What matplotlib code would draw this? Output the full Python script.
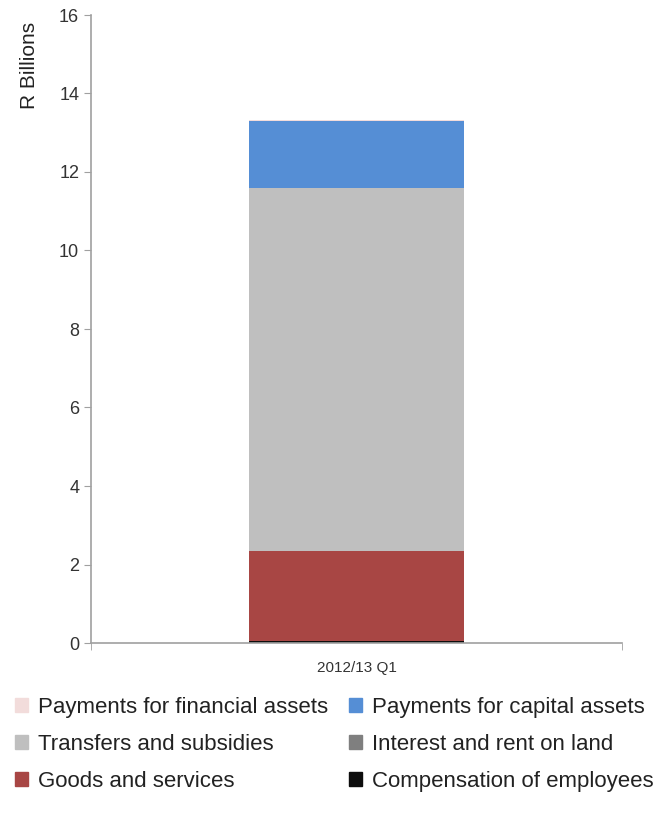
import numpy as np
import matplotlib.pyplot as plt
from matplotlib.patches import Patch

plt.rcParams['font.family'] = ['Liberation Sans Narrow', 'Liberation Sans', 'DejaVu Sans']

# quarter and spending by economic classification (R billions)
quarters = ['2012/13 Q1']
compensation = [0.05]
goods = [2.29]
interest = [0.0]
transfers = [9.25]
capital = [1.71]
financial = [0.02]

series = [
    ('Compensation of employees', compensation, '#0d0d0d'),
    ('Goods and services', goods, '#a84644'),
    ('Interest and rent on land', interest, '#7f7f7f'),
    ('Transfers and subsidies', transfers, '#bfbfbf'),
    ('Payments for capital assets', capital, '#558ed5'),
    ('Payments for financial assets', financial, '#f2dcdb'),
]

fig = plt.figure(figsize=(6.62, 8.22), dpi=100)
ax = fig.add_axes([91 / 662, 179 / 822, 531 / 662, 628 / 822])

x = np.arange(len(quarters))
bottom = np.zeros(len(quarters))
for name, vals, col in series:
    ax.bar(x, vals, width=0.405, bottom=bottom, color=col, label=name)
    bottom += np.array(vals)

ax.set_xlim(-0.5, 0.5)
ax.set_ylim(0, 16)
ax.set_yticks(np.arange(0, 17, 2))
ax.set_xticks(x)
ax.set_xticklabels(quarters)
ax.set_xticks([-0.5, 0.5], minor=True)
ax.set_ylabel('R Billions', fontsize=15, color='#222222')
ax.yaxis.set_label_coords(-0.098, 0.92)

for s in ['top', 'right']:
    ax.spines[s].set_visible(False)
for s in ['left', 'bottom']:
    ax.spines[s].set_color('#a0a0a0')
    ax.spines[s].set_linewidth(1.2)
ax.tick_params(axis='y', colors='#a0a0a0', labelcolor='#333333', labelsize=13, length=5)
ax.tick_params(axis='x', which='major', length=0, labelcolor='#333333', labelsize=11, pad=13)
ax.tick_params(axis='x', which='minor', length=5, color='#a0a0a0')

# legend: two columns, three rows
order = ['Payments for financial assets', 'Transfers and subsidies', 'Goods and services',
         'Payments for capital assets', 'Interest and rent on land', 'Compensation of employees']
colors = {n: c for n, _, c in series}
handles = [Patch(color=colors[n], label=n) for n in order]
fig.legend(handles=handles, loc='lower center', bbox_to_anchor=(0.505, 0.012), ncol=2,
           frameon=False, fontsize=16, handlelength=0.6, handleheight=0.6,
           handletextpad=0.45, columnspacing=0.95, labelspacing=0.72,
           labelcolor='#222222')

fig.savefig('out.png', dpi=100)
